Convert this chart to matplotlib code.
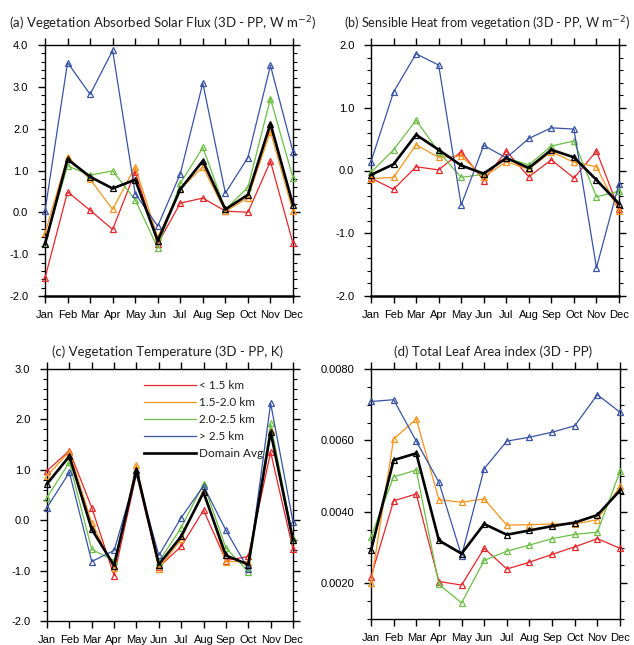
import matplotlib
matplotlib.use("Agg")
import matplotlib.pyplot as plt
from matplotlib.ticker import MultipleLocator, FormatStrFormatter
from matplotlib.lines import Line2D
import numpy as np

months = ["Jan", "Feb", "Mar", "Apr", "May", "Jun", "Jul", "Aug", "Sep", "Oct", "Nov", "Dec"]
series_labels = ["< 1.5 km", "1.5-2.0 km", "2.0-2.5 km", "> 2.5 km", "Domain Avg"]

# (a) Vegetation Absorbed Solar Flux
a_lt15 = [-1.57, 0.49, 0.05, -0.41, 0.97, -0.75, 0.22, 0.34, 0.03, 0.00, 1.22, -0.74]
a_15_20 = [-0.50, 1.33, 0.79, 0.07, 1.09, -0.60, 0.55, 1.09, 0.02, 0.35, 1.93, 0.02]
a_20_25 = [-0.73, 1.11, 0.89, 0.99, 0.30, -0.85, 0.69, 1.55, 0.07, 0.60, 2.72, 0.82]
a_gt25 = [0.03, 3.58, 2.82, 3.87, 0.45, -0.33, 0.92, 3.09, 0.46, 1.31, 3.51, 1.45]
a_avg = [-0.76, 1.27, 0.85, 0.57, 0.78, -0.68, 0.55, 1.23, 0.07, 0.42, 2.12, 0.18]

# (b) Sensible Heat from vegetation
b_lt15 = [-0.12, -0.30, 0.06, 0.01, 0.30, -0.16, 0.31, -0.10, 0.17, -0.12, 0.31, -0.62]
b_15_20 = [-0.13, -0.11, 0.41, 0.21, 0.23, -0.10, 0.14, 0.02, 0.30, 0.13, 0.06, -0.65]
b_20_25 = [-0.03, 0.33, 0.80, 0.30, -0.11, -0.06, 0.20, 0.09, 0.39, 0.47, -0.42, -0.33]
b_gt25 = [0.14, 1.25, 1.86, 1.68, -0.55, 0.40, 0.20, 0.51, 0.68, 0.66, -1.55, -0.21]
b_avg = [-0.07, 0.10, 0.57, 0.33, 0.08, -0.05, 0.20, 0.04, 0.33, 0.21, -0.15, -0.53]

# (c) Vegetation Temperature
c_lt15 = [0.98, 1.38, 0.25, -1.10, 0.92, -0.93, -0.52, 0.20, -0.80, -0.72, 1.35, -0.58]
c_15_20 = [0.88, 1.36, -0.05, -0.95, 1.10, -0.96, -0.38, 0.60, -0.82, -0.82, 1.79, -0.40]
c_20_25 = [0.45, 1.15, -0.58, -0.80, 0.95, -0.82, -0.15, 0.72, -0.55, -1.02, 1.92, -0.35]
c_gt25 = [0.25, 0.95, -0.82, -0.60, 0.92, -0.70, 0.05, 0.68, -0.20, -0.97, 2.32, -0.03]
c_avg = [0.72, 1.27, -0.18, -0.90, 1.00, -0.88, -0.32, 0.55, -0.70, -0.88, 1.75, -0.40]

# (d) Total Leaf Area index
d_lt15 = [0.00218, 0.00431, 0.00450, 0.00205, 0.00195, 0.00298, 0.00240, 0.00259, 0.00281, 0.00302, 0.00325, 0.00298]
d_15_20 = [0.00200, 0.00604, 0.00660, 0.00434, 0.00427, 0.00436, 0.00363, 0.00364, 0.00366, 0.00366, 0.00378, 0.00471]
d_20_25 = [0.00330, 0.00498, 0.00517, 0.00197, 0.00145, 0.00264, 0.00290, 0.00307, 0.00325, 0.00337, 0.00343, 0.00513]
d_gt25 = [0.00709, 0.00714, 0.00598, 0.00483, 0.00277, 0.00521, 0.00598, 0.00609, 0.00623, 0.00641, 0.00728, 0.00679]
d_avg = [0.00292, 0.00545, 0.00564, 0.00320, 0.00283, 0.00366, 0.00336, 0.00348, 0.00360, 0.00370, 0.00391, 0.00460]

colors = ["#e8262a", "#f7941d", "#6cbf45", "#3853a4", "#000000"]

W, H = 634, 645
fig = plt.figure(figsize=(W / 100, H / 100), dpi=100)

def ax_at(l, r, t, b):
    return fig.add_axes([l / W, 1 - b / H, (r - l) / W, (b - t) / H])

panels = [
    dict(box=(45, 293, 45, 296), data=[a_lt15, a_15_20, a_20_25, a_gt25, a_avg],
         ylim=(-2.0, 4.0), major=1.0, minor=0.2, fmt="%.1f", tpad=12, tx=0.476, tsize=9.5,
         title="(a) Vegetation Absorbed Solar Flux (3D - PP, W m$^{-2}$)", thickbottom=True),
    dict(box=(371, 619, 45, 296), data=[b_lt15, b_15_20, b_20_25, b_gt25, b_avg],
         ylim=(-2.0, 2.0), major=1.0, minor=0.2, fmt="%.1f", tpad=12, tx=0.47, tsize=9.1,
         title="(b) Sensible Heat from vegetation (3D - PP, W m$^{-2}$)", thickbottom=True),
    dict(box=(47, 293, 369, 621), data=[c_lt15, c_15_20, c_20_25, c_gt25, c_avg],
         ylim=(-2.0, 3.0), major=1.0, minor=0.2, fmt="%.1f", tpad=9, tx=0.49, tsize=9.5,
         title="(c) Vegetation Temperature (3D - PP, K)", thickbottom=False),
    dict(box=(371, 620, 369, 619), data=[d_lt15, d_15_20, d_20_25, d_gt25, d_avg],
         ylim=(0.0010, 0.0080), major=0.002, minor=0.0005, fmt="%.4f", tpad=9, tx=0.49, tsize=9.5,
         title="(d) Total Leaf Area index (3D - PP)", thickbottom=False),
]

x = np.arange(len(months))
title_font = "Lato"
tick_font = "Liberation Sans"

for i, p in enumerate(panels):
    ax = ax_at(*p["box"])
    for k, (vals, col) in enumerate(zip(p["data"], colors)):
        lw = 1.9 if k == 4 else 0.9
        ax.plot(x, vals, color=col, lw=lw, marker="^", markersize=4.4,
                markerfacecolor="none", markeredgecolor=col, markeredgewidth=0.9,
                zorder=3 + k, clip_on=False)
    ax.set_xlim(0, 11)
    ax.set_ylim(*p["ylim"])
    ax.set_xticks(x)
    ax.set_xticklabels(months)
    ax.yaxis.set_major_locator(MultipleLocator(p["major"]))
    ax.yaxis.set_minor_locator(MultipleLocator(p["minor"]))
    ax.yaxis.set_major_formatter(FormatStrFormatter(p["fmt"]))
    ax.tick_params(axis="both", which="major", direction="out", length=5, width=1,
                   top=True, right=True, labelsize=8, pad=7)
    ax.tick_params(axis="x", which="major", pad=5)
    ax.tick_params(axis="y", which="minor", direction="out", length=3, width=0.8,
                   left=True, right=True)
    for lab in ax.get_xticklabels() + ax.get_yticklabels():
        lab.set_fontfamily(tick_font)
    for s in ax.spines.values():
        s.set_linewidth(1.0)
    if p["thickbottom"]:
        ax.spines["bottom"].set_linewidth(1.8)
    ax.set_title(p["title"], fontsize=p["tsize"], family=title_font, pad=p["tpad"],
                 x=p["tx"], color="#231f20")
    if i == 2:
        handles = [Line2D([0], [0], color=c, lw=(1.9 if k == 4 else 0.9))
                   for k, c in enumerate(colors)]
        leg = ax.legend(handles, series_labels, loc="upper left",
                        bbox_to_anchor=(0.375, 0.975), frameon=False,
                        handlelength=4.4, handletextpad=0.3, labelspacing=0.5,
                        prop={"family": title_font, "size": 8.5}, borderaxespad=0)
        for t in leg.get_texts():
            t.set_color("#231f20")

fig.savefig("out.png", dpi=100)
